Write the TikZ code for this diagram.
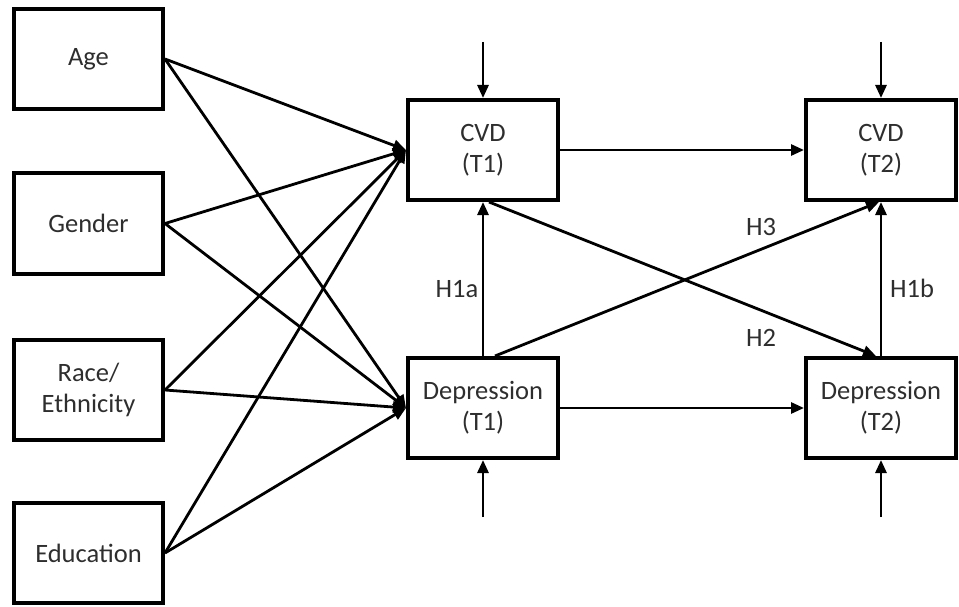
\documentclass[tikz,border=0pt]{standalone}
\usepackage{fontspec}
\setmainfont{Carlito}
\usetikzlibrary{arrows.meta,calc}
\begin{document}
\begin{tikzpicture}[x=1pt,y=-1pt,
  varbox/.style={draw, line width=4pt, minimum width=150pt, minimum height=100pt, align=center, inner sep=0pt, font=\fontsize{26.5}{31}\selectfont, text=black!82},
  leftbox/.style={varbox, minimum width=149pt},
  arr/.style={line width=2.8pt, -{Triangle[length=13pt,width=11pt]}},
  lab/.style={font=\fontsize{26.5}{31}\selectfont, text=black!82, inner sep=0pt}]
\useasboundingbox (0,0) rectangle (959,607);
\node[leftbox] (age) at (88.5,59) {Age};
\node[leftbox] (gender) at (88.5,223.5) {Gender};
\node[leftbox] (race) at (88.5,390) {Race/\\Ethnicity};
\node[leftbox] (edu) at (88.5,553) {Education};
\node[varbox] (cvd1) at (483,150) {CVD\\(T1)};
\node[varbox] (dep1) at (483,408) {Depression\\(T1)};
\node[varbox] (cvd2) at (881,150) {CVD\\(T2)};
\node[varbox] (dep2) at (881,408) {Depression\\(T2)};
% covariate paths
\foreach \s in {age,gender,race,edu}{
  \draw[arr] (\s.east) -- (cvd1.west);
  \draw[arr] (\s.east) -- (dep1.west);
}
% disturbances
\coordinate (u1) at (483,42);
\coordinate (u2) at (881,42);
\coordinate (u3) at (483,517);
\coordinate (u4) at (881,517);
\draw[arr] (u1) -- (cvd1.north);
\draw[arr] (u2) -- (cvd2.north);
\draw[arr] (u3) -- (dep1.south);
\draw[arr] (u4) -- (dep2.south);
% autoregressive
\draw[arr] (cvd1.east) -- (cvd2.west);
\draw[arr] (dep1.east) -- (dep2.west);
% hypotheses
\draw[arr] (dep1.north) -- (cvd1.south);
\draw[arr] (dep2.north) -- (cvd2.south);
\draw[arr] ($(dep1.north)+(12,0)$) -- ($(cvd2.south)+(-2,0)$);
\draw[arr] ($(cvd1.south)+(6,0)$) -- ($(dep2.north)+(-5,0)$);
\node[lab] (h1a) at (457,289) {H1a};
\node[lab] (h1b) at (912,288) {H1b};
\node[lab] (h3) at (761,227) {H3};
\node[lab] (h2) at (761,338) {H2};
\end{tikzpicture}
\end{document}
